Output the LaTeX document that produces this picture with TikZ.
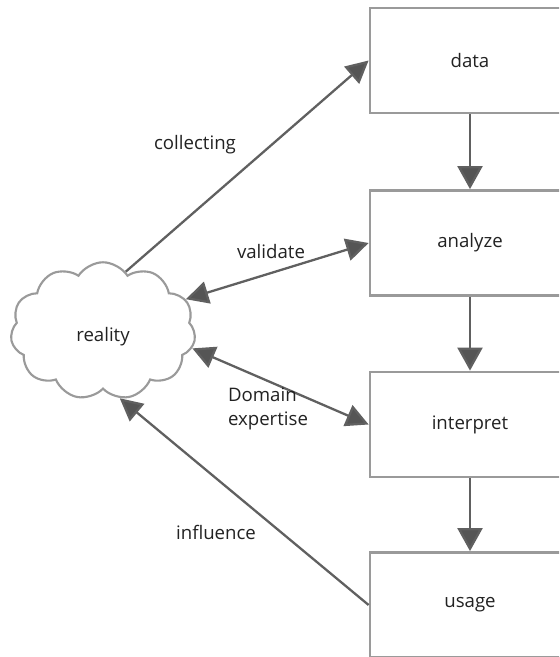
\documentclass[tikz,border=0pt]{standalone}
\usepackage{fontspec}
\setmainfont{Open Sans}
\usetikzlibrary{shapes.symbols,arrows.meta}
\definecolor{boxline}{HTML}{9A9A9A}
\definecolor{arrline}{HTML}{606060}
\definecolor{headcol}{HTML}{555555}
\definecolor{txt}{HTML}{222222}
\begin{document}
\begin{tikzpicture}[x=0.02cm,y=-0.02cm,
  font=\fontsize{10.6}{13.5}\selectfont, text=txt,
  stagebox/.style={draw=boxline, line width=1.6pt, minimum width=4cm, minimum height=2.1cm, inner sep=0pt},
  lbl/.style={inner sep=1pt},
  conn/.style={draw=arrline, line width=1.3pt, -{Triangle[length=0.45cm,width=0.45cm,fill=headcol]}},
  biconn/.style={draw=arrline, line width=1.3pt, {Triangle[length=0.45cm,width=0.45cm,fill=headcol]}-{Triangle[length=0.45cm,width=0.45cm,fill=headcol]}},
  flow/.style={draw=arrline, line width=1.3pt, -{Triangle[length=0.46cm,width=0.5cm,fill=headcol]}}
]
\useasboundingbox (0,0) rectangle (559,657);
\clip (0,0) rectangle (559,657);
\fill[white] (0,0) rectangle (559,657);

% stages
\node[stagebox] (data) at (470,60.5) {data};
\node[stagebox] (analyze) at (470,243) {analyze};
\node[stagebox] (interpret) at (470,424.5) {interpret};
\node[stagebox] (usage) at (470,605) {usage};

% reality cloud
\node[cloud, draw=boxline, line width=1.2pt, cloud puffs=11, cloud puff arc=115,
      minimum width=3.7cm, minimum height=2.75cm, aspect=1.4, inner sep=0pt] (reality) at (103,331) {};
\node[lbl] (lreal) at (103,337) {reality};

% flow
\draw[flow] (data.south) -- (analyze.north);
\draw[flow] (analyze.south) -- (interpret.north);
\draw[flow] (interpret.south) -- (usage.north);

% connectors
\draw[conn] (reality.69) -- (data.west);
\draw[biconn] (reality.21) -- (analyze.west);
\draw[biconn] (reality.-11) -- (interpret.west);
\draw[conn] (usage.west) -- (reality.-76);

% labels
\node[lbl] (lcollect) at (195,145) {collecting};
\node[lbl] (lvalid) at (271,252) {validate};
\node[lbl, align=left] (ldomain) at (268,409) {Domain\\expertise};
\node[lbl] (linfl) at (216,532) {influence};
\end{tikzpicture}
\end{document}
